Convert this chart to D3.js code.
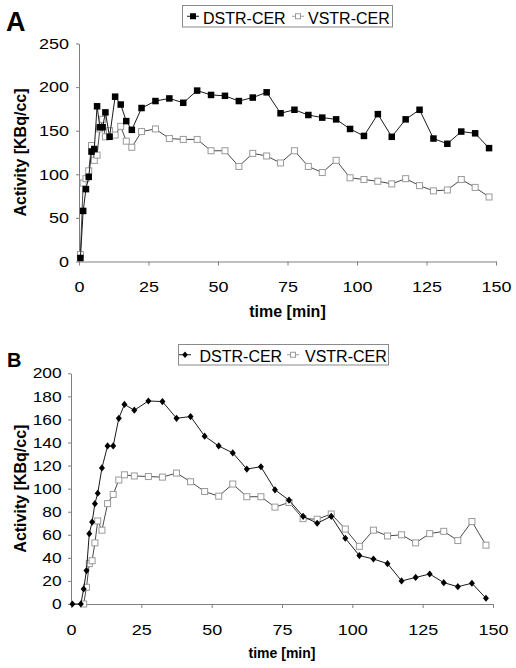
<!DOCTYPE html>
<html><head><meta charset="utf-8">
<script src="https://cdn.jsdelivr.net/npm/d3@7"></script>
<style>
body{margin:0;background:#fff}
svg{display:block}
text{font-family:Arial,"Liberation Sans",sans-serif;fill:#000}
</style>
</head><body>
<svg id="c" width="516" height="668"></svg>
<script>
const seriesNames = ["DSTR-CER", "VSTR-CER"];
const xTicks = [0, 25, 50, 75, 100, 125, 150];
const yTicksA = [0, 50, 100, 150, 200, 250];
const yTicksB = [0, 20, 40, 60, 80, 100, 120, 140, 160, 180, 200];

const timeA = [0.5, 1.5, 2.5, 3.5, 4.5, 5.5, 6.5, 7.5, 8.5, 9.5, 11, 13, 15, 17, 19,
  22.5, 27.5, 32.5, 37.5, 42.5, 47.5, 52.5, 57.5, 62.5, 67.5, 72.5, 77.5, 82.5, 87.5,
  92.5, 97.5, 102.5, 107.5, 112.5, 117.5, 122.5, 127.5, 132.5, 137.5, 142.5, 147.5];
const dstrA = [4, 58, 83, 97, 126, 129, 178, 154, 154, 171, 143, 189, 180, 161, 151,
  176, 184, 187, 182, 196, 191, 190, 184, 188, 194, 170, 174, 168, 165,
  163, 152, 144, 169, 143, 163, 174, 141, 135, 149, 147, 130];
const vstrA = [8, 90, 95, 104, 133, 116, 122, 152, 163, 143, 150, 145, 155, 138, 131,
  149, 152, 141, 140, 140, 127, 127, 109, 124, 121, 113, 127, 109, 102,
  116, 96, 94, 92, 89, 95, 87, 81, 82, 94, 85, 74];

const timeB = [0.5, 3.5, 4.5, 5.5, 6.5, 7.5, 8.5, 9.5, 11, 13, 15, 17, 19,
  22.5, 27.5, 32.5, 37.5, 42.5, 47.5, 52.5, 57.5, 62.5, 67.5, 72.5, 77.5, 82.5, 87.5,
  92.5, 97.5, 102.5, 107.5, 112.5, 117.5, 122.5, 127.5, 132.5, 137.5, 142.5, 147.5];
const dstrB = [0, 0, 13, 29, 61, 71, 87, 96, 118, 137, 137, 161, 173,
  168, 176, 175.5, 161, 162.5, 145.5, 137, 131, 117, 119, 99, 90, 76, 70,
  76, 57, 42, 39, 35, 20, 23, 26, 18.5, 15, 18, 5];
const vstrB = [null, null, 0, 14.5, 35, 37.5, 53, 72, 64, 87, 95, 107.5, 112,
  111, 110.5, 110, 113.5, 106, 97.5, 93.5, 104, 93, 93, 84, 88, 74, 73.5,
  78, 65, 50, 64, 59, 60, 53, 61, 63, 55, 71.5, 51];

const svg = d3.select("#c");
const AXIS = "#808080";

const squareBlack = s => g => g.append("rect").attr("x", -s/2).attr("y", -s/2).attr("width", s).attr("height", s).attr("fill", "#000");
const squareOpen = s => g => g.append("rect").attr("x", -s/2).attr("y", -s/2).attr("width", s).attr("height", s).attr("fill", "#fff").attr("stroke", "#9a9a9a").attr("stroke-width", 1);
const diamond = (w, h) => g => g.append("path").attr("d", `M0,${-h}L${w},0L0,${h}L${-w},0Z`).attr("fill", "#000");

function panel(cfg) {
  const g = svg.append("g");
  const x = d3.scaleLinear().domain([0, 150]).range(cfg.xr);
  const y = d3.scaleLinear().domain([0, cfg.ymax]).range(cfg.yr);

  const ya = d3.axisLeft(y).tickValues(cfg.yTicks).tickSize(3).tickSizeOuter(0).tickPadding(cfg.yPad);
  const yg = g.append("g").attr("transform", `translate(${cfg.xr[0]},0)`).call(ya);
  const xa = d3.axisBottom(x).tickValues(xTicks).tickSize(4).tickSizeOuter(0).tickPadding(cfg.xPad);
  const xg = g.append("g").attr("transform", `translate(0,${cfg.yr[0]})`).call(xa);
  [yg, xg].forEach(a => {
    a.select(".domain").attr("stroke", AXIS);
    a.selectAll(".tick line").attr("stroke", AXIS);
    a.selectAll(".tick text").attr("font-family", "Arial, 'Liberation Sans', sans-serif").attr("fill", "#000");
  });
  yg.selectAll(".tick text").attr("font-size", cfg.yFont).attr("transform", `scale(${cfg.stretch},1)`);
  xg.selectAll(".tick text").attr("font-size", 15).attr("transform", `scale(1.2,1)`);

  const series = [
    {vals: cfg.d, mk: cfg.mk0, lc: "#1a1a1a", lw: 1},
    {vals: cfg.v, mk: cfg.mk1, lc: "#333", lw: 0.9}
  ];
  const line = d3.line().defined(d => d[1] != null).x(d => x(d[0])).y(d => y(d[1]));
  // draw VSTR first, then DSTR on top
  [series[1], series[0]].forEach(s => {
    const pts = cfg.t.map((t, i) => [t, s.vals[i]]);
    g.append("path").attr("d", line(pts)).attr("fill", "none").attr("stroke", s.lc).attr("stroke-width", s.lw);
    pts.filter(p => p[1] != null).forEach(p => {
      const m = g.append("g").attr("transform", `translate(${x(p[0])},${y(p[1])})`);
      s.mk(m);
    });
  });

  // titles
  g.append("text").attr("x", (cfg.xr[0] + cfg.xr[1]) / 2).attr("y", cfg.xtY)
    .attr("text-anchor", "middle").attr("font-weight", "bold").attr("font-size", cfg.xtFont).text("time [min]");
  g.append("text").attr("transform", `translate(26,${(cfg.yr[0] + cfg.yr[1]) / 2}) rotate(-90)`)
    .attr("text-anchor", "middle").attr("font-weight", "bold").attr("font-size", 16).text("Activity [KBq/cc]");
  g.append("text").attr("x", cfg.lab[0]).attr("y", cfg.lab[1]).attr("font-weight", "bold")
    .attr("font-size", cfg.lab[2]).text(cfg.label);

  // legend
  const L = cfg.leg;
  g.append("rect").attr("x", L.x).attr("y", L.y).attr("width", L.w).attr("height", L.h)
    .attr("fill", "#fff").attr("stroke", "#8a8a8a").attr("stroke-width", 1);
  const cy = L.y + L.h / 2;
  [0, 1].forEach(i => {
    const mx = L.mx[i];
    g.append("line").attr("x1", mx - 6).attr("x2", mx + 6).attr("y1", cy).attr("y2", cy)
      .attr("stroke", i === 0 ? "#1a1a1a" : "#9a9a9a").attr("stroke-width", 1);
    const m = g.append("g").attr("transform", `translate(${mx},${cy})`);
    (i === 0 ? L.mk0 : L.mk1)(m);
    g.append("text").attr("x", L.tx[i]).attr("y", L.ty).attr("font-size", 16).text(seriesNames[i]);
  });
}

panel({
  label: "A", lab: [6, 31, 27],
  xr: [79, 496], yr: [261.5, 43.5], ymax: 250, yTicks: yTicksA,
  yPad: 5.3, yFont: 15, stretch: 1.2, xPad: 15.4,
  xtY: 317, xtFont: 16,
  t: timeA, d: dstrA, v: vstrA,
  mk0: squareBlack(6.5), mk1: squareOpen(6),
  leg: {x: 182.5, y: 5.5, w: 210, h: 21.5, mx: [193, 298], tx: [203, 308], ty: 23.5,
        mk0: squareBlack(6), mk1: squareOpen(5)}
});

panel({
  label: "B", lab: [7, 367, 20],
  xr: [71, 493], yr: [604, 373.3], ymax: 200, yTicks: yTicksB,
  yPad: 4.8, yFont: 14.5, stretch: 1.2, xPad: 16.3,
  xtY: 658, xtFont: 14,
  t: timeB, d: dstrB, v: vstrB,
  mk0: diamond(3, 3.6), mk1: squareOpen(6),
  leg: {x: 178.5, y: 344.5, w: 210, h: 20.5, mx: [185, 293], tx: [199.5, 305], ty: 361.5,
        mk0: diamond(2.8, 3.3), mk1: squareOpen(5)}
});
</script>
</body></html>
